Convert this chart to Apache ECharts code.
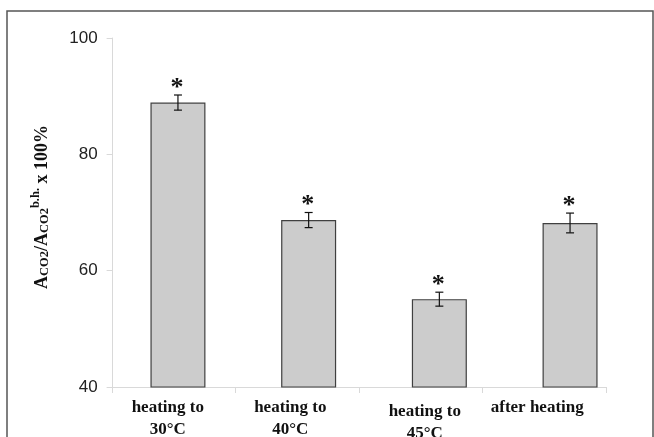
<!DOCTYPE html>
<html>
<head>
<meta charset="utf-8">
<script src="https://cdn.jsdelivr.net/npm/echarts@6/dist/echarts.min.js"></script>
<style>
html,body{margin:0;padding:0;background:#fff;}
#c{width:654px;height:437px;}
</style>
</head>
<body>
<div id="c"></div>
<script>
var categories = ['heating to\n30°C', 'heating to\n40°C', 'heating to\n45°C', 'after heating'];
var means = [88.9, 68.7, 55.1, 68.2];
var errors = [1.3, 1.3, 1.2, 1.7];
var yTicks = {min: 40, max: 100, interval: 20};

var chart = echarts.init(document.getElementById('c'));
var serif = '"Liberation Serif", "Times New Roman", serif';
var sans = '"Liberation Sans", Arial, sans-serif';

var labelPad = [[0,12,0,0],[0,14,0,0],[7,0,0,8],[0,14,0,0]];

function labelStyle(p) {
  return {fontFamily: serif, fontWeight: 'bold', fontSize: 17, lineHeight: 22, color: '#111', padding: p, align: 'center'};
}

chart.setOption({
  animation: false,
  backgroundColor: '#fff',
  graphic: [{
    type: 'rect', shape: {x: 7, y: 11, width: 646, height: 440},
    style: {fill: 'none', stroke: '#555', lineWidth: 1.5}, z: -1
  }, {
    type: 'text', x: 42, y: 207, rotation: Math.PI / 2,
    style: {
      text: '{a|A}{s|CO2}{a|/A}{s|CO2}{p|b.h.}{a| x 100%}',
      align: 'center', verticalAlign: 'middle',
      rich: {
        a: {fontFamily: serif, fontWeight: 'bold', fontSize: 18, fill: '#111', verticalAlign: 'middle'},
        s: {fontFamily: serif, fontWeight: 'bold', fontSize: 12.5, fill: '#111', padding: [6,0,0,0], verticalAlign: 'middle'},
        p: {fontFamily: serif, fontWeight: 'bold', fontSize: 12.5, fill: '#111', padding: [0,0,13,0], verticalAlign: 'middle'}
      }
    }
  }],
  grid: [
    {left: 112.6, right: 18.6, top: 38, bottom: 50, containLabel: false, outerBoundsMode: 'none'},
    {left: 112, right: 48, top: 38, bottom: 50, containLabel: false, outerBoundsMode: 'none'}
  ],
  xAxis: [
    {type: 'category', gridIndex: 0, data: categories, show: false},
    {type: 'category', gridIndex: 1, data: categories,
     axisLine: {lineStyle: {color: '#d9d9d9', width: 1}},
     axisTick: {show: true, length: 6, lineStyle: {color: '#d9d9d9'}},
     axisLabel: {
       margin: 10,
       formatter: function (v, i) { return '{l' + i + '|' + v + '}'; },
       rich: {l0: labelStyle(labelPad[0]), l1: labelStyle(labelPad[1]), l2: labelStyle(labelPad[2]), l3: labelStyle(labelPad[3])}
     }}
  ],
  yAxis: [
    {type: 'value', gridIndex: 0, min: yTicks.min, max: yTicks.max, interval: yTicks.interval,
     axisLine: {show: true, lineStyle: {color: '#d9d9d9'}},
     axisTick: {show: true, inside: false, length: 6, lineStyle: {color: '#d9d9d9'}},
     splitLine: {show: false},
     axisLabel: {fontFamily: sans, fontSize: 17, color: '#222', margin: 15}},
    {type: 'value', gridIndex: 1, min: yTicks.min, max: yTicks.max, interval: yTicks.interval, show: false}
  ],
  series: [{
    type: 'bar', xAxisIndex: 0, yAxisIndex: 0, data: means,
    barWidth: 55,
    itemStyle: {color: '#cccccc', borderColor: '#404040', borderWidth: 1.2}
  }, {
    type: 'custom', xAxisIndex: 0, yAxisIndex: 0,
    data: means.map(function (m, i) { return [i, m, errors[i]]; }),
    renderItem: function (params, api) {
      var i = api.value(0), m = api.value(1), e = api.value(2);
      var top = api.coord([i, m + e]);
      var bot = api.coord([i, m - e]);
      var hw = 4;
      var st = {stroke: '#111', lineWidth: 1.2};
      return {type: 'group', children: [
        {type: 'line', shape: {x1: top[0], y1: top[1], x2: bot[0], y2: bot[1]}, style: st},
        {type: 'line', shape: {x1: top[0]-hw, y1: top[1], x2: top[0]+hw, y2: top[1]}, style: st},
        {type: 'line', shape: {x1: bot[0]-hw, y1: bot[1], x2: bot[0]+hw, y2: bot[1]}, style: st},
        {type: 'text', x: top[0] - 1, y: top[1] - 7, style: {text: '*', fontFamily: serif, fontWeight: 'bold', fontSize: 26, fill: '#111', align: 'center', verticalAlign: 'middle'}}
      ]};
    },
    z: 5
  }]
});
</script>
</body>
</html>
